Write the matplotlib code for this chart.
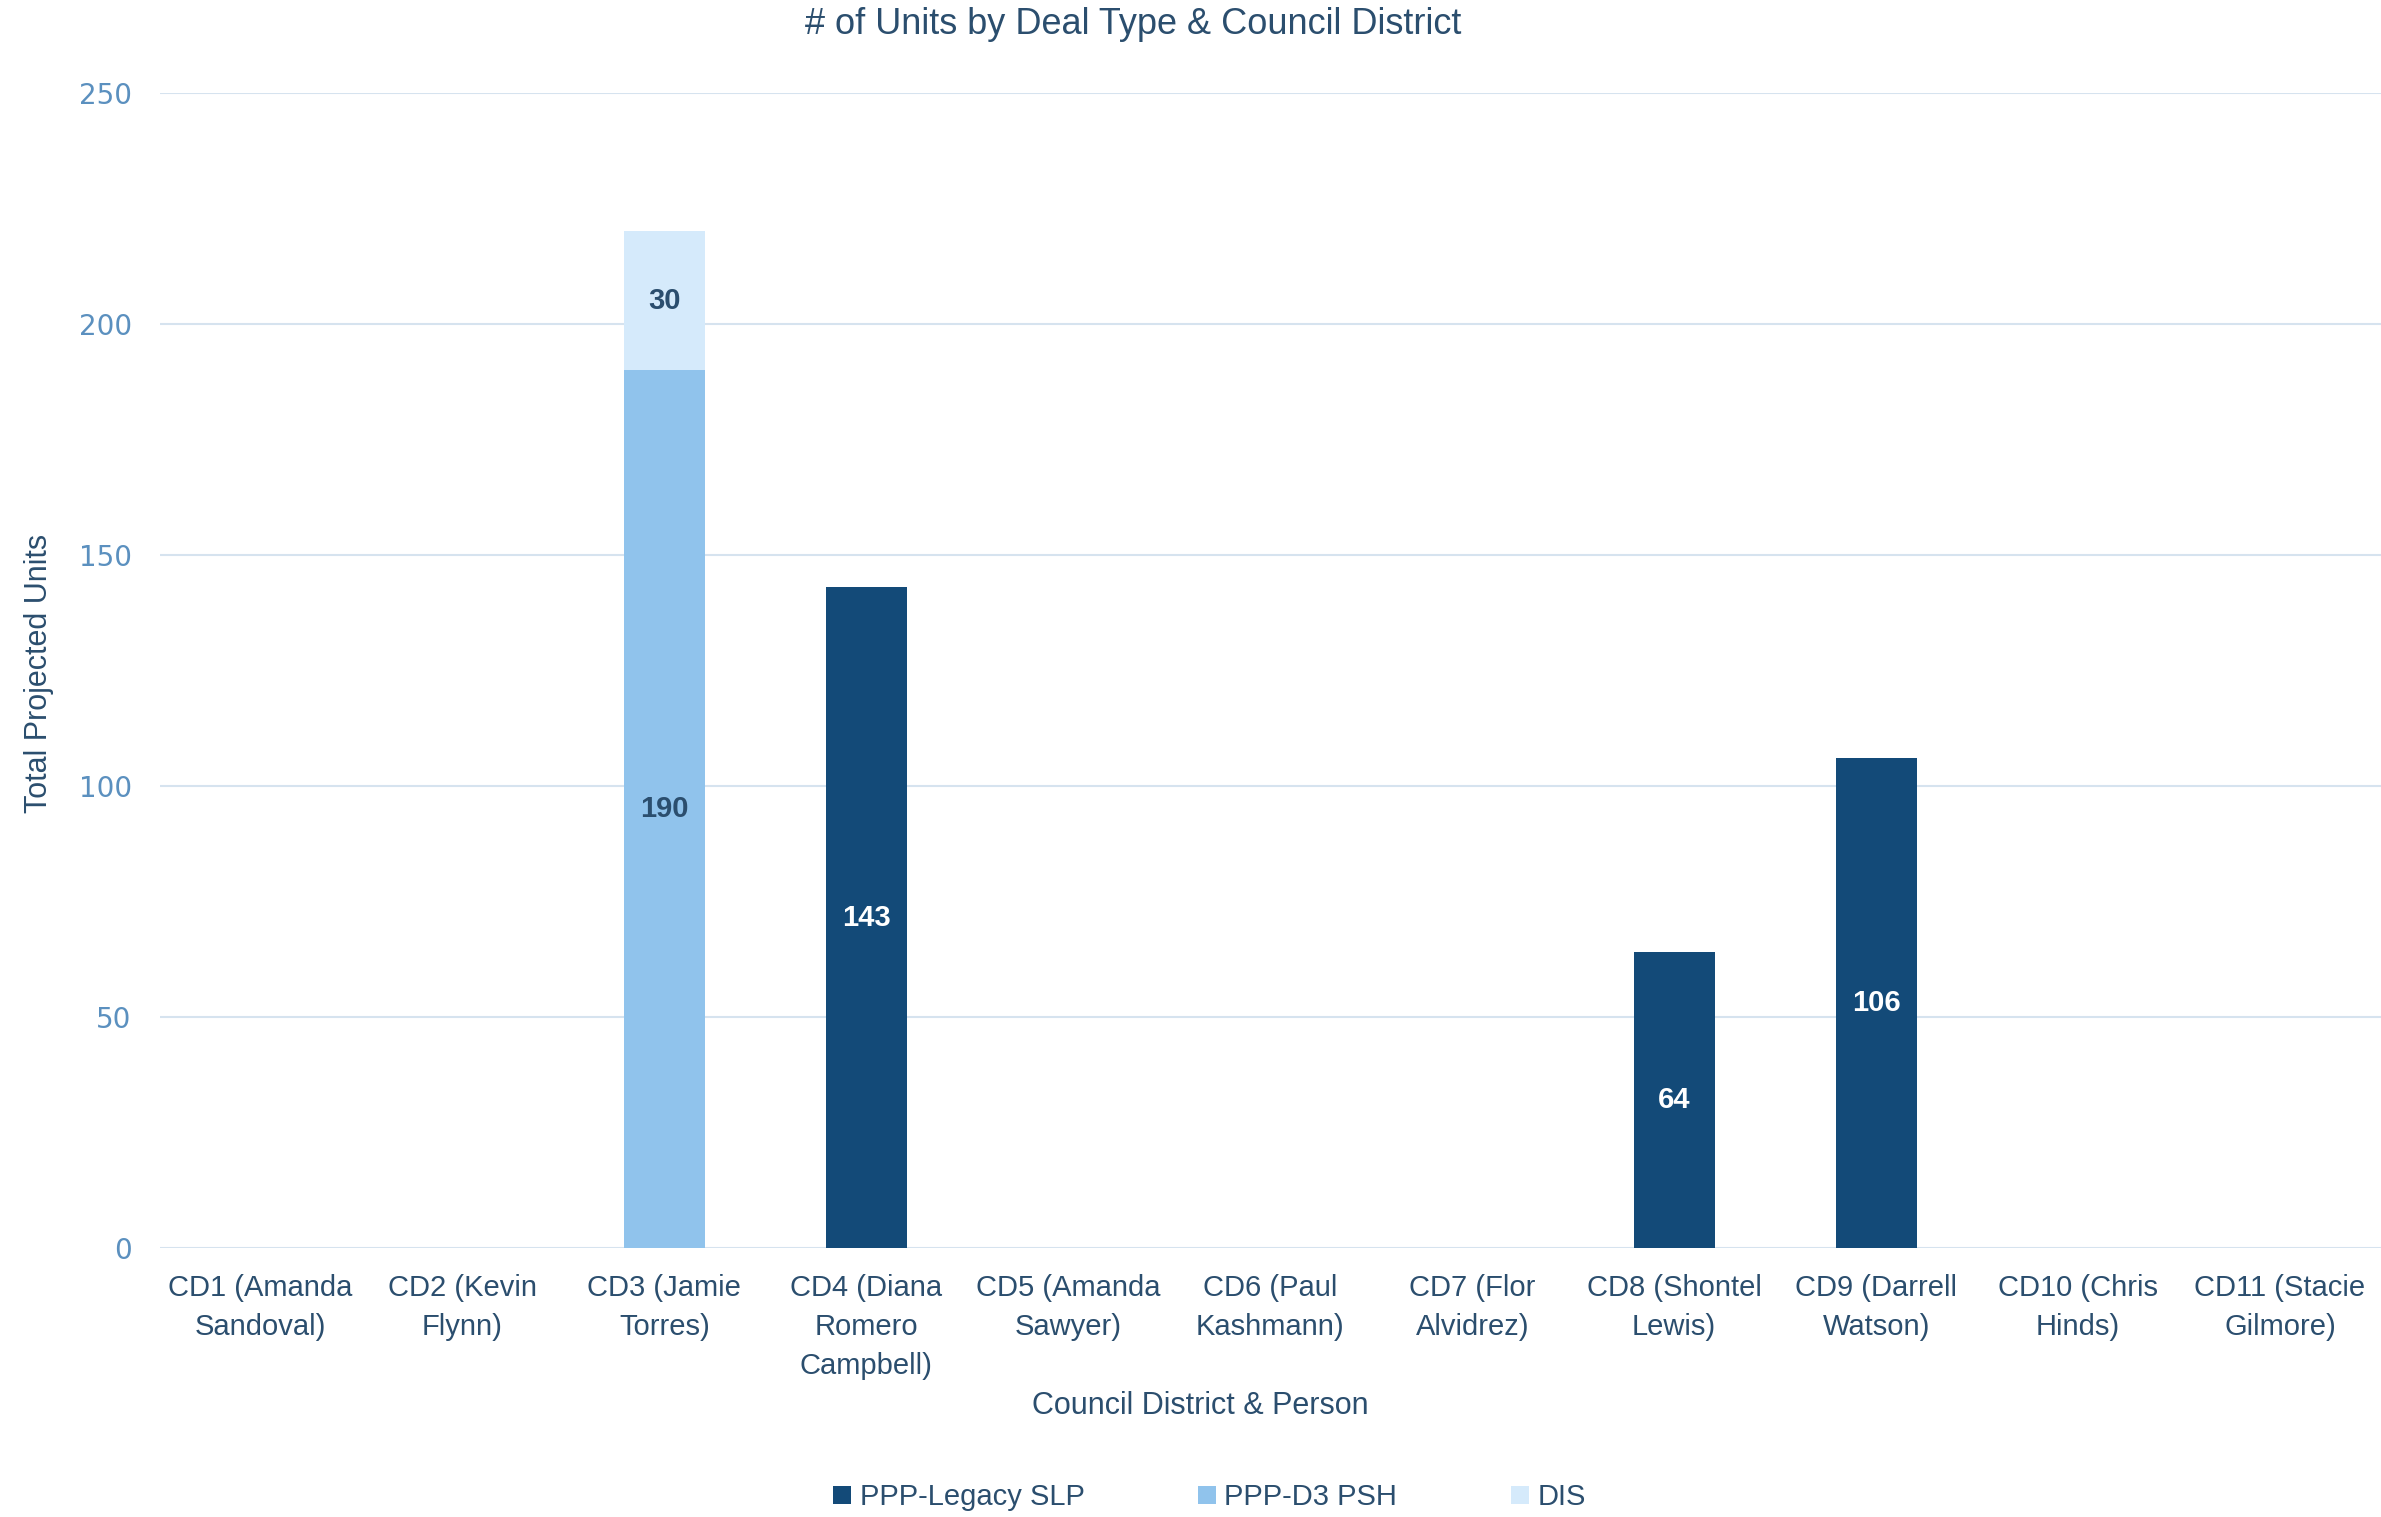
import matplotlib
matplotlib.use('Agg')
import matplotlib.pyplot as plt
import numpy as np

districts = ['CD1 (Amanda\nSandoval)', 'CD2 (Kevin\nFlynn)', 'CD3 (Jamie\nTorres)',
             'CD4 (Diana\nRomero\nCampbell)', 'CD5 (Amanda\nSawyer)', 'CD6 (Paul\nKashmann)',
             'CD7 (Flor\nAlvidrez)', 'CD8 (Shontel\nLewis)', 'CD9 (Darrell\nWatson)',
             'CD10 (Chris\nHinds)', 'CD11 (Stacie\nGilmore)']
legacy_slp = [0, 0, 0, 143, 0, 0, 0, 64, 106, 0, 0]
d3_psh = [0, 0, 190, 0, 0, 0, 0, 0, 0, 0, 0]
dis = [0, 0, 30, 0, 0, 0, 0, 0, 0, 0, 0]
series_names = ['PPP-Legacy SLP', 'PPP-D3 PSH', 'DIS']
y_ticks = [0, 50, 100, 150, 200, 250]

DARK = '#134a78'
MID = '#90c3ec'
LIGHT = '#d5eafb'
TEXT = '#2b4e6e'
TICK = '#5b90bf'
GRID = '#d6e3ef'

plt.rcParams['font.family'] = ['Liberation Sans', 'DejaVu Sans']

fig = plt.figure(figsize=(23.81, 15.17), dpi=100)
ax = fig.add_axes([0.067, 0.1773, 0.933, 0.7617])

x = np.arange(len(districts))
w = 0.4
bottom = np.zeros(len(districts))
bars = []
for vals, color, name in zip([legacy_slp, d3_psh, dis], [DARK, MID, LIGHT], series_names):
    b = ax.bar(x, vals, w, bottom=bottom, color=color, label=name, zorder=3)
    bars.append(b)
    bottom += np.array(vals)

# white labels on the dark series, dark labels on the light ones
label_colors = ['white', TEXT, TEXT]
for b, vals, c in zip(bars, [legacy_slp, d3_psh, dis], label_colors):
    ax.bar_label(b, labels=[str(v) if v else '' for v in vals], label_type='center',
                 color=c, fontsize=21, fontweight='bold')

ax.set_xlim(-0.5, len(districts) - 0.5)
ax.set_ylim(0, 250)
ax.set_yticks(y_ticks)
ax.set_yticklabels([str(t) for t in y_ticks], family='DejaVu Sans', fontsize=20, color=TICK)
ax.set_xticks(x)
ax.set_xticklabels(districts, fontsize=21, color=TEXT, linespacing=1.5)
ax.tick_params(axis='both', length=0)
ax.tick_params(axis='x', pad=19)
ax.tick_params(axis='y', pad=20)
ax.grid(axis='y', color=GRID, lw=1.5, zorder=0)
for s in ax.spines.values():
    s.set_visible(False)

fig.text(0.476, 0.984, '# of Units by Deal Type & Council District', ha='center', va='center',
         fontsize=26, color=TEXT)
fig.text(0.504, 0.073, 'Council District & Person', ha='center', va='center',
         fontsize=22, color=TEXT)
fig.text(0.0165, 0.556, 'Total Projected Units', ha='center', va='center', rotation=90,
         fontsize=22, color=TEXT)

leg = fig.legend(handles=bars, labels=series_names, loc='center', bbox_to_anchor=(0.508, 0.013),
                 ncol=3, frameon=False, fontsize=21, handlelength=0.6, handleheight=0.6,
                 handletextpad=0.3, columnspacing=3.9)
for t in leg.get_texts():
    t.set_color(TEXT)

fig.savefig('out.png', dpi=100)
